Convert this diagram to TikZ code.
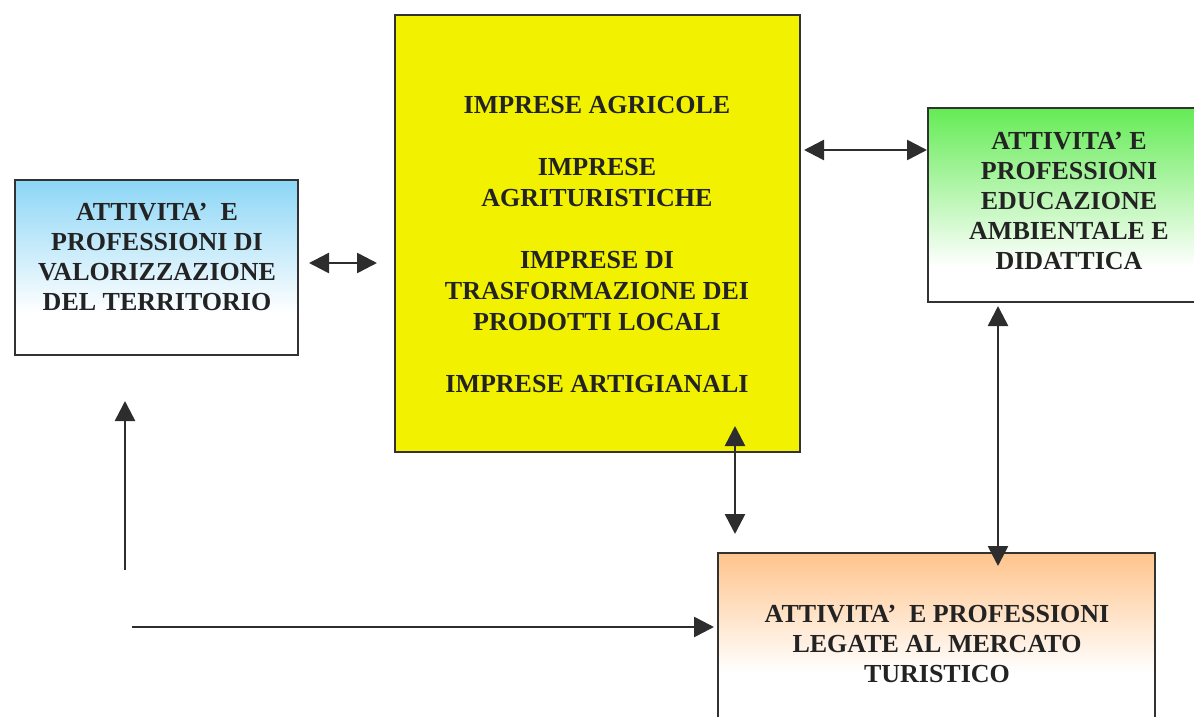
\documentclass[tikz,border=0pt]{standalone}
\usepackage{fontspec}
\setmainfont{Liberation Serif}
\usetikzlibrary{arrows.meta}

\definecolor{skytop}{RGB}{140,214,246}
\definecolor{greentop}{RGB}{100,235,85}
\definecolor{peachtop}{RGB}{255,196,140}
\definecolor{yellowfill}{RGB}{242,242,0}
\definecolor{boxgray}{RGB}{50,50,50}
\definecolor{arrowgray}{RGB}{45,45,45}
\definecolor{textgray}{RGB}{35,35,35}

\pgfdeclareverticalshading{bluefade}{100bp}{color(0bp)=(white); color(37bp)=(white); color(75bp)=(skytop); color(100bp)=(skytop)}
\pgfdeclareverticalshading{greenfade}{100bp}{color(0bp)=(white); color(34bp)=(white); color(75bp)=(greentop); color(100bp)=(greentop)}
\pgfdeclareverticalshading{peachfade}{100bp}{color(0bp)=(white); color(42bp)=(white); color(75bp)=(peachtop); color(100bp)=(peachtop)}

\begin{document}
\begin{tikzpicture}[x=0.5pt, y=-0.5pt, >={Triangle[length=10pt,width=10pt]},
    box/.style={draw=boxgray, line width=1pt, inner sep=0pt},
    txt/.style={align=center, text=textgray, font=\bfseries\fontsize{13}{15}\selectfont},
    link/.style={draw=arrowgray, line width=1.3pt}]
  \useasboundingbox (0,0) rectangle (1194,717);
  \clip (0,0) rectangle (1194,717);

  \node[box, shade, shading=bluefade, minimum width=141.5pt, minimum height=87.5pt] (terr) at (156.5,267.5) {};
  \node[box, fill=yellowfill, minimum width=202.5pt, minimum height=218.5pt] (impr) at (597.5,233.5) {};
  \node[box, shade, shading=greenfade, minimum width=142pt, minimum height=97pt] (educ) at (1070,205) {};
  \node[box, shade, shading=peachfade, minimum width=218.5pt, minimum height=90.5pt] (turi) at (936.5,643.5) {};

  \node[txt] (terrtxt) at (157,256.7) {ATTIVITA’\ \ E\\PROFESSIONI DI\\VALORIZZAZIONE\\DEL TERRITORIO};
  \node[txt, font=\bfseries\fontsize{13}{15.5}\selectfont] (imprtxt) at (597,244.5)
    {IMPRESE AGRICOLE\\[15.5pt]IMPRESE\\AGRITURISTICHE\\[15.5pt]IMPRESE DI\\TRASFORMAZIONE DEI\\PRODOTTI LOCALI\\[15.5pt]IMPRESE ARTIGIANALI};
  \node[txt] (eductxt) at (1069,200.8) {ATTIVITA’ E\\PROFESSIONI\\EDUCAZIONE\\AMBIENTALE E\\DIDATTICA};
  \node[txt] (turitxt) at (937,643.7) {ATTIVITA’\ \ E PROFESSIONI\\LEGATE AL MERCATO\\TURISTICO};

  \draw[link, <->, shorten <=5pt, shorten >=8.5pt] ([yshift=2.25pt]terr.east) coordinate (tl) -- (tl -| impr.west);
  \draw[link, <->, shorten >=1.5pt] ([yshift=27.5pt]educ.west) coordinate (ie) -- (ie -| impr.east);
  \draw[link, <->, shorten <=-13.5pt, shorten >=9pt] ([xshift=68.75pt]impr.south) coordinate (it) -- (it |- turi.north);
  \draw[link, <->, shorten <=1.5pt, shorten >=-7pt] ([xshift=-36pt]educ.south) coordinate (et) -- (et |- turi.north);

  \coordinate (upfoot) at (125,570);
  \coordinate (leftfoot) at (132,627);
  \draw[link, ->, shorten >=22.5pt] (upfoot) -- (upfoot |- terr.south);
  \draw[link, ->, shorten >=1.5pt] (leftfoot) -- (leftfoot -| turi.west);
\end{tikzpicture}
\end{document}
